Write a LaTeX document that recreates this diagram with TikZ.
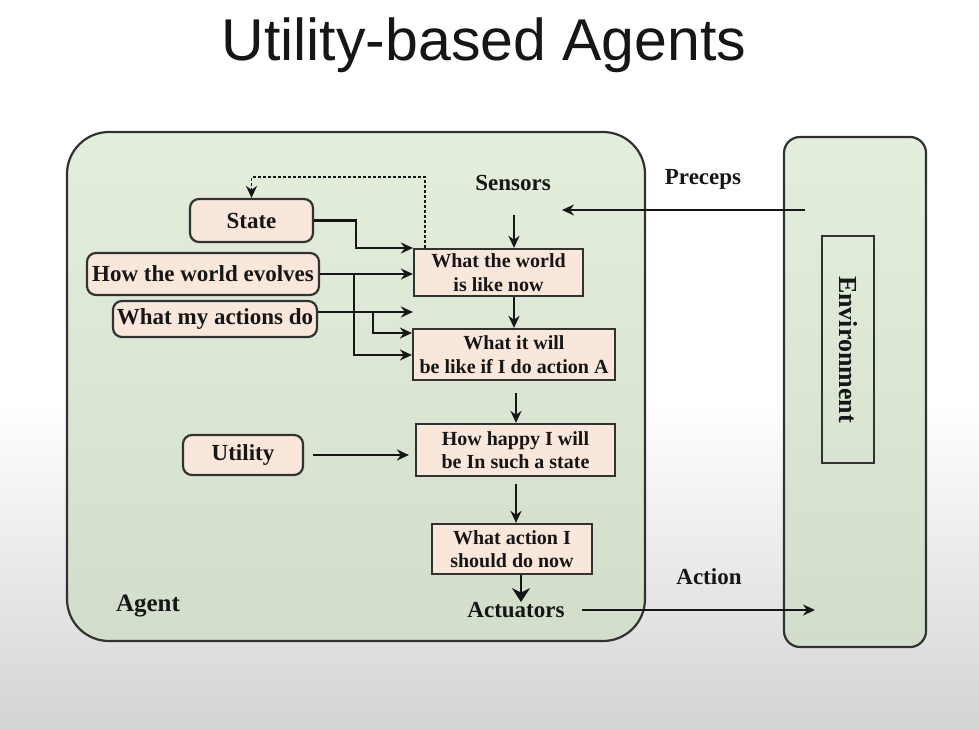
\documentclass[tikz,border=0pt]{standalone}
\usepackage{fontspec}
\setmainfont{Liberation Serif}
\newfontfamily\titlefont{Liberation Sans}
\usetikzlibrary{arrows.meta}
\definecolor{agentTop}{RGB}{227,238,220}
\definecolor{agentBot}{RGB}{210,222,203}
\definecolor{peach}{RGB}{250,231,219}
\definecolor{edge}{RGB}{50,50,50}
\definecolor{ink}{RGB}{22,22,22}
\definecolor{bgBot}{RGB}{212,212,212}
\begin{document}
\begin{tikzpicture}[x=1pt,y=-1pt,
  arr/.style={draw=ink, line width=2.2pt, -{Stealth[length=12pt,width=11pt]}},
  bigarr/.style={draw=ink, line width=2.4pt, -{Stealth[length=14pt,width=18pt]}},
  rbox/.style={draw=edge, fill=peach, line width=2.2pt, rounded corners=9pt, inner sep=0pt,
     font=\fontsize{23}{26}\selectfont\bfseries, text=ink},
  sbox/.style={draw=edge, fill=peach, line width=2.2pt, inner sep=0pt, align=center,
     font=\fontsize{20}{23.5}\selectfont\bfseries, text=ink},
  lbl/.style={font=\fontsize{23}{26}\selectfont\bfseries, text=ink, inner sep=0pt},
  frame/.style={draw=edge, line width=2.2pt, top color=agentTop, bottom color=agentBot, inner sep=0pt}
]
\useasboundingbox (0,0) rectangle (979,728);
% background
\fill[white] (0,0) rectangle (979,728);
\shade[top color=white, bottom color=bgBot] (0,400) rectangle (979,728);
% title
\node[anchor=base, inner sep=0pt, font=\titlefont\fontsize{59}{64}\selectfont, text=ink] (title) at (484,60) {Utility-based Agents};
% frames
\node[frame, rounded corners=42pt, minimum width=578pt, minimum height=509pt] (agent) at (356,386.5) {};
\node[frame, rounded corners=16pt, minimum width=142pt, minimum height=510pt] (env) at (855,392) {};
\node[draw=edge, line width=2.2pt, inner sep=0pt, rotate=-90, minimum width=227pt, minimum height=52pt,
      font=\fontsize{26}{30}\selectfont\bfseries, text=ink] (envin) at (848,349.5) {Environment};
% rounded boxes
\node[rbox, minimum width=123pt, minimum height=43pt] (state) at (251.5,220.5) {State};
\node[rbox, minimum width=232pt, minimum height=42pt] (evolves) at (203,274) {How the world evolves};
\node[rbox, minimum width=204pt, minimum height=36pt] (actions) at (215,319) {What my actions do};
\node[rbox, minimum width=120pt, minimum height=40pt] (util) at (243,455) {Utility};
% square boxes
\node[sbox, minimum width=169pt, minimum height=47pt] (world) at (498.5,272.5) {What the world\\is like now};
\node[sbox, minimum width=202pt, minimum height=51pt] (A) at (514,354.5) {What it will\\be like if I do action A};
\node[sbox, minimum width=199pt, minimum height=52pt] (happy) at (515.5,450) {How happy I will\\be In such a state};
\node[sbox, minimum width=160pt, minimum height=50pt] (act) at (512,549) {What action I\\should do now};
% labels
\node[lbl] (sensors) at (513,183) {Sensors};
\node[lbl] (actuators) at (516,610) {Actuators};
\node[lbl, font=\fontsize{25}{28}\selectfont\bfseries] (agentlbl) at (148,606) {Agent};
\node[lbl] (preceps) at (703,179) {Preceps};
\node[lbl] (action) at (709,577) {Action};
% vertical chain
\coordinate (sIn) at (514,215);
\draw[arr] (sIn) -- (sIn |- world.north);
\draw[arr] (world.south -| sIn) -- (A.north -| sIn);
\coordinate (hx) at (516,393);
\draw[arr] (hx) -- (hx |- happy.north);
\coordinate (ax) at (516,484);
\draw[arr] (ax) -- (ax |- act.north);
\coordinate (bx) at (521,0);
\draw[bigarr] (act.south -| bx) -- (actuators.north -| bx);
% percepts and action
\coordinate (pStart) at (805,210);
\coordinate (pEnd) at (562,210);
\draw[arr] (pStart) -- (pEnd);
\coordinate (envL) at (815,609);
\draw[arr] ([xshift=17pt]actuators.east) -- (envL |- actuators.east);
% feedback (dashed)
\coordinate (dx) at (425,177);
\draw[arr, line width=1.8pt, dash pattern=on 3pt off 2pt] (world.north -| dx) -- (dx) -| (state.north);
% state
\coordinate (sj) at (356,248);
\draw[arr] (state.east) -| (sj) -- (sj -| world.west);
% evolves
\coordinate (ej) at (354,355);
\draw[arr] (evolves.east) -- (evolves.east -| world.west);
\draw[arr] (ej |- evolves.east) -- (ej) -- (ej -| A.west);
% actions
\coordinate (aj) at (373,312);
\coordinate (aj2) at (373,333);
\draw[arr] (actions.east |- aj) -- (aj -| world.west);
\draw[arr] (aj) -- (aj2) -- (aj2 -| A.west);
% utility
\draw[arr] ([xshift=9pt]util.east) -- ([xshift=-6pt]util.east -| happy.west);
\end{tikzpicture}
\end{document}
